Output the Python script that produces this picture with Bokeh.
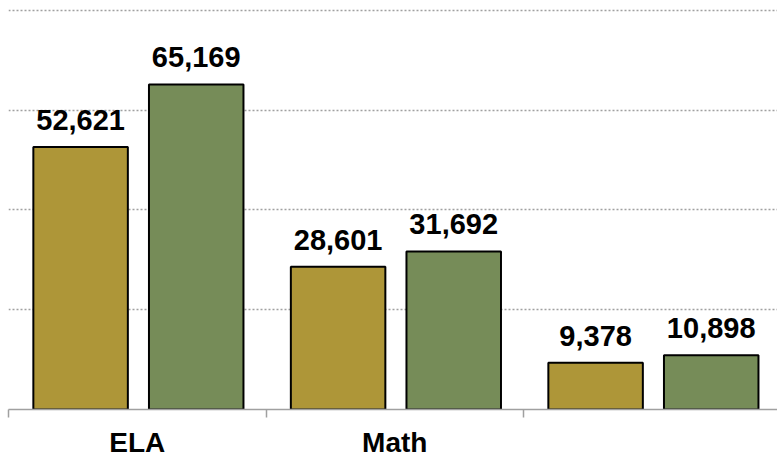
from bokeh.plotting import figure
from bokeh.models import FixedTicker, ColumnDataSource, Range1d
from bokeh.core.properties import value
from bokeh.embed import file_html
from bokeh.resources import INLINE

# ---- data ----
categories = ["ELA", "Math", ""]
series_a = [52621, 28601, 9378]     # gold bars
series_b = [65169, 31692, 10898]    # green bars
grid_values = [20000, 40000, 60000, 80000]

GOLD = "#AE9638"
GREEN = "#768C58"
GRID = "#A0A0A0"
FONT = "Liberation Sans"

centers = [i + 0.5 for i in range(len(categories))]
xa = [c - 0.22 for c in centers]
xb = [c + 0.229 for c in centers]

p = figure(width=777, height=460, output_backend="svg", toolbar_location=None,
           x_range=Range1d(0, 2.9864), y_range=Range1d(0, 81995),
           min_border_left=8, min_border_right=0, min_border_top=0, min_border_bottom=0)
p.outline_line_color = None
p.background_fill_color = "white"
p.border_fill_color = "white"

src_a = ColumnDataSource(dict(x=xa, top=series_a, label=[f"{v:,}" for v in series_a]))
src_b = ColumnDataSource(dict(x=xb, top=series_b, label=[f"{v:,}" for v in series_b]))

p.vbar(x="x", top="top", bottom=0, width=0.367, source=src_a,
       fill_color=GOLD, line_color="black", line_width=2)
p.vbar(x="x", top="top", bottom=0, width=0.367, source=src_b,
       fill_color=GREEN, line_color="black", line_width=2)

for src in (src_a, src_b):
    p.text(x="x", y="top", text="label", source=src, y_offset=-27,
           text_align="center", text_baseline="alphabetic",
           text_font=value(FONT), text_font_style="bold", text_font_size="29px",
           text_color="black")

# grid
p.xgrid.visible = False
p.ygrid.ticker = FixedTicker(ticks=grid_values)
p.ygrid.grid_line_color = GRID
p.ygrid.grid_line_width = 1.5
p.ygrid.grid_line_dash = "2 2"

# y axis hidden
p.yaxis.visible = False

# x axis
xa_axis = p.xaxis[0]
xa_axis.ticker = FixedTicker(ticks=centers, minor_ticks=list(range(len(categories) + 1)))
xa_axis.major_label_overrides = {c: lab for c, lab in zip(centers, categories)}
xa_axis.major_tick_line_color = None
xa_axis.major_tick_out = 0
xa_axis.major_tick_in = 0
xa_axis.minor_tick_line_color = GRID
xa_axis.minor_tick_line_width = 1.5
xa_axis.minor_tick_out = 8
xa_axis.minor_tick_in = 0
xa_axis.axis_line_color = GRID
xa_axis.axis_line_width = 1.5
xa_axis.major_label_standoff = 9
xa_axis.major_label_text_font = FONT
xa_axis.major_label_text_font_style = "bold"
xa_axis.major_label_text_font_size = "28px"
xa_axis.major_label_text_color = "black"

open("out.html", "w").write(file_html(p, INLINE))
